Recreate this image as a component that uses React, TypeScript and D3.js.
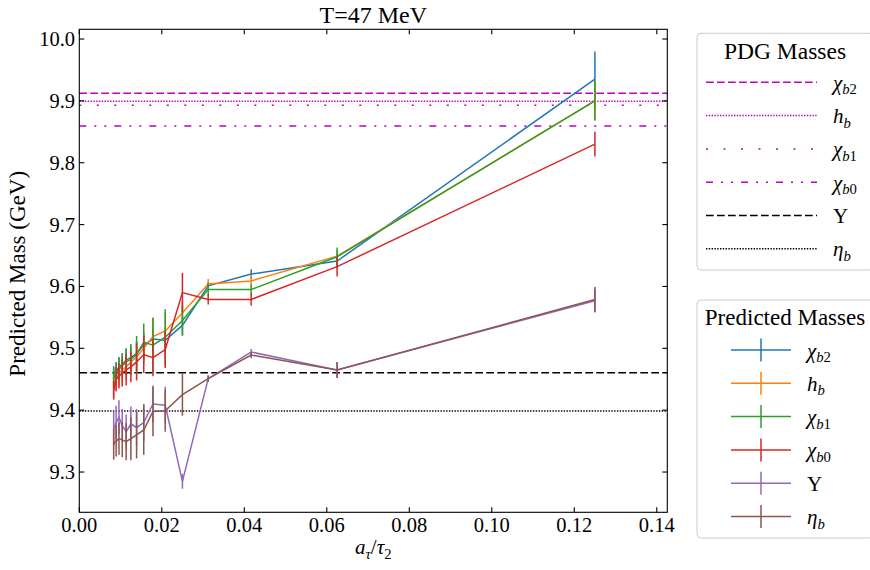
import React from "react";
import * as d3 from "d3";

// ---------- data ----------
const xValues = [0.125, 0.0625, 0.041667, 0.03125, 0.025, 0.020833, 0.017857, 0.015625, 0.013889, 0.0125, 0.011364, 0.010417, 0.009615, 0.008929, 0.008333];

const chib2Vals = [9.935, 9.641, 9.62, 9.601, 9.537, 9.513, 9.515, 9.505, 9.492, 9.485, 9.481, 9.474, 9.47, 9.462, 9.455];
const chib2Errs = [0.045, 0.012, 0.008, 0.006, 0.015, 0.02, 0.02, 0.02, 0.02, 0.018, 0.018, 0.018, 0.016, 0.016, 0.016];

const hbVals = [9.9, 9.649, 9.609, 9.604, 9.557, 9.528, 9.519, 9.5, 9.486, 9.478, 9.47, 9.465, 9.46, 9.452, 9.44];
const hbErrs = [0.03, 0.01, 0.01, 0.008, 0.02, 0.03, 0.03, 0.025, 0.022, 0.02, 0.02, 0.02, 0.02, 0.02, 0.02];

const chib1Vals = [9.9, 9.648, 9.595, 9.595, 9.545, 9.518, 9.505, 9.51, 9.49, 9.482, 9.478, 9.472, 9.466, 9.458, 9.452];
const chib1Errs = [0.032, 0.015, 0.008, 0.01, 0.025, 0.045, 0.045, 0.03, 0.03, 0.025, 0.022, 0.02, 0.018, 0.018, 0.016];

const chib0Vals = [9.83, 9.632, 9.579, 9.579, 9.59, 9.498, 9.485, 9.49, 9.478, 9.47, 9.465, 9.46, 9.455, 9.45, 9.432];
const chib0Errs = [0.02, 0.016, 0.01, 0.008, 0.032, 0.03, 0.03, 0.03, 0.03, 0.025, 0.025, 0.022, 0.02, 0.02, 0.015];

const upsVals = [9.577, 9.465, 9.494, 9.451, 9.285, 9.408, 9.41, 9.38, 9.372, 9.378, 9.365, 9.375, 9.389, 9.38, 9.37];
const upsErrs = [0.019, 0.013, 0.005, 0.005, 0.012, 0.03, 0.03, 0.03, 0.03, 0.028, 0.028, 0.027, 0.027, 0.027, 0.027];

const etabVals = [9.579, 9.465, 9.489, 9.451, 9.425, 9.399, 9.398, 9.368, 9.36, 9.354, 9.349, 9.352, 9.354, 9.35, 9.345];
const etabErrs = [0.02, 0.013, 0.005, 0.005, 0.034, 0.034, 0.04, 0.04, 0.038, 0.035, 0.03, 0.028, 0.026, 0.025, 0.025];

const pdgValues = [9.9122, 9.8993, 9.8928, 9.8594, 9.4603, 9.3987];

const xTicks = [0, 0.02, 0.04, 0.06, 0.08, 0.1, 0.12, 0.14];
const yTicks = [9.3, 9.4, 9.5, 9.6, 9.7, 9.8, 9.9, 10.0];

// ---------- styles ----------
type Part = { t: string; it?: boolean; sub?: boolean };
const labels: Part[][] = [
  [{ t: "χ", it: true }, { t: "b", it: true, sub: true }, { t: "2", sub: true }],
  [{ t: "h", it: true }, { t: "b", it: true, sub: true }],
  [{ t: "χ", it: true }, { t: "b", it: true, sub: true }, { t: "1", sub: true }],
  [{ t: "χ", it: true }, { t: "b", it: true, sub: true }, { t: "0", sub: true }],
  [{ t: "Υ" }],
  [{ t: "η", it: true }, { t: "b", it: true, sub: true }],
];
const seriesColors = ["#1f77b4", "#ff7f0e", "#2ca02c", "#d62728", "#9467bd", "#8c564b"];
const pdgColors = ["#bf00bf", "#bf00bf", "#bf00bf", "#bf00bf", "#000000", "#000000"];
const pdgDash = ["7.7,3.3", "1.4,1.4", "2,15.5", "7,8,2,8,2,8", "7.7,3.3", "1.4,1.4"];

const FONT = "'Liberation Serif', 'DejaVu Serif', serif";

const W = 870, H = 570;
const L = 79.3, T = 29.3, R = 667.3, B = 512.3;

function MathText({ x, y, parts, size, anchor = "start" }: { x: number; y: number; parts: Part[]; size: number; anchor?: string }) {
  let inSub = false;
  const shift = size * 0.22;
  const elems = parts.map((p, i) => {
    let dy = 0;
    if (p.sub && !inSub) { dy = shift; inSub = true; }
    else if (!p.sub && inSub) { dy = -shift; inSub = false; }
    return (
      <tspan key={i} dy={dy} fontStyle={p.it ? "italic" : "normal"} fontSize={p.sub ? size * 0.7 : size}>
        {p.t}
      </tspan>
    );
  });
  return (
    <text x={x} y={y} fontFamily={FONT} fontSize={size} textAnchor={anchor} fill="#000">
      {elems}
    </text>
  );
}

export default function App() {
  const x = d3.scaleLinear().domain([0, 0.14255]).range([L, R]);
  const y = d3.scaleLinear().domain([9.2349, 10.0157]).range([B, T]);

  const series = [
    { v: chib2Vals, e: chib2Errs },
    { v: hbVals, e: hbErrs },
    { v: chib1Vals, e: chib1Errs },
    { v: chib0Vals, e: chib0Errs },
    { v: upsVals, e: upsErrs },
    { v: etabVals, e: etabErrs },
  ];

  const line = d3
    .line<number>()
    .x((_, i) => x(xValues[i]))
    .y((d) => y(d));

  const tickLen = 5;
  const legX = 697, legW = 176;
  const leg1Y = 33.3, leg1H = 236.7;
  const leg2Y = 300, leg2H = 238;
  const leg1Rows = [82.3, 115.6, 148.9, 182.2, 215.5, 248.8];
  const leg2Rows = [350, 383.3, 416.6, 449.9, 483.2, 516.5];

  return (
    <svg width={W} height={H} style={{ position: "absolute", left: 0, top: 0, background: "#fff" }}>
      <rect x={0} y={0} width={W} height={H} fill="#fff" />
      {/* PDG horizontal lines */}
      {pdgValues.map((v, i) => (
        <line key={"pdg" + i} x1={L} x2={R} y1={y(v)} y2={y(v)} stroke={pdgColors[i]} strokeWidth={1.5} strokeDasharray={pdgDash[i]} />
      ))}
      {/* series */}
      {series.map((s, si) => (
        <g key={"s" + si}>
          <path d={line(s.v) || ""} fill="none" stroke={seriesColors[si]} strokeWidth={1.5} />
          {s.v.map((v, i) => (
            <line key={i} x1={x(xValues[i])} x2={x(xValues[i])} y1={y(v - s.e[i])} y2={y(v + s.e[i])} stroke={seriesColors[si]} strokeWidth={1.5} />
          ))}
        </g>
      ))}
      {/* axes frame */}
      <rect x={L} y={T} width={R - L} height={B - T} fill="none" stroke="#000" strokeWidth={1.1} />
      {xTicks.map((t) => (
        <g key={"xt" + t}>
          <line x1={x(t)} x2={x(t)} y1={B} y2={B - tickLen} stroke="#000" strokeWidth={1.1} />
          <line x1={x(t)} x2={x(t)} y1={T} y2={T + tickLen} stroke="#000" strokeWidth={1.1} />
          <text x={x(t)} y={532} textAnchor="middle" fontFamily={FONT} fontSize={20.5}>
            {t.toFixed(2)}
          </text>
        </g>
      ))}
      {yTicks.map((t) => (
        <g key={"yt" + t}>
          <line x1={L} x2={L + tickLen} y1={y(t)} y2={y(t)} stroke="#000" strokeWidth={1.1} />
          <line x1={R} x2={R - tickLen} y1={y(t)} y2={y(t)} stroke="#000" strokeWidth={1.1} />
          <text x={75} y={y(t) + 7} textAnchor="end" fontFamily={FONT} fontSize={20.5}>
            {t.toFixed(1)}
          </text>
        </g>
      ))}
      {/* title and axis labels */}
      <text x={(L + R) / 2} y={23} textAnchor="middle" fontFamily={FONT} fontSize={24}>
        T=47 MeV
      </text>
      <text transform={`translate(25,${(T + B) / 2 + 3}) rotate(-90)`} textAnchor="middle" fontFamily={FONT} fontSize={23}>
        Predicted Mass (GeV)
      </text>
      <MathText
        x={(L + R) / 2}
        y={554}
        size={21}
        anchor="middle"
        parts={[{ t: "a", it: true }, { t: "τ", it: true, sub: true }, { t: "/" }, { t: "τ", it: true }, { t: "2", sub: true }]}
      />
      {/* legend 1 */}
      <rect x={legX} y={leg1Y} width={legW} height={leg1H} rx={4} fill="#fff" fillOpacity={0.8} stroke="#cccccc" strokeWidth={1} />
      <text x={legX + legW / 2} y={59} textAnchor="middle" fontFamily={FONT} fontSize={23.5}>
        PDG Masses
      </text>
      {leg1Rows.map((ry, i) => (
        <g key={"l1" + i}>
          <line x1={706} x2={817} y1={ry} y2={ry} stroke={pdgColors[i]} strokeWidth={1.5} strokeDasharray={pdgDash[i]} />
          <MathText x={833} y={ry + 7.5} size={21} parts={labels[i]} />
        </g>
      ))}
      {/* legend 2 */}
      <rect x={legX} y={leg2Y} width={legW} height={leg2H} rx={4} fill="#fff" fillOpacity={0.8} stroke="#cccccc" strokeWidth={1} />
      <text x={legX + legW / 2} y={325} textAnchor="middle" fontFamily={FONT} fontSize={23}>
        Predicted Masses
      </text>
      {leg2Rows.map((ry, i) => (
        <g key={"l2" + i}>
          <line x1={731} x2={791} y1={ry} y2={ry} stroke={seriesColors[i]} strokeWidth={1.5} />
          <line x1={761} x2={761} y1={ry - 11.5} y2={ry + 11.5} stroke={seriesColors[i]} strokeWidth={1.5} />
          <MathText x={807} y={ry + 7.5} size={21} parts={labels[i]} />
        </g>
      ))}
    </svg>
  );
}
